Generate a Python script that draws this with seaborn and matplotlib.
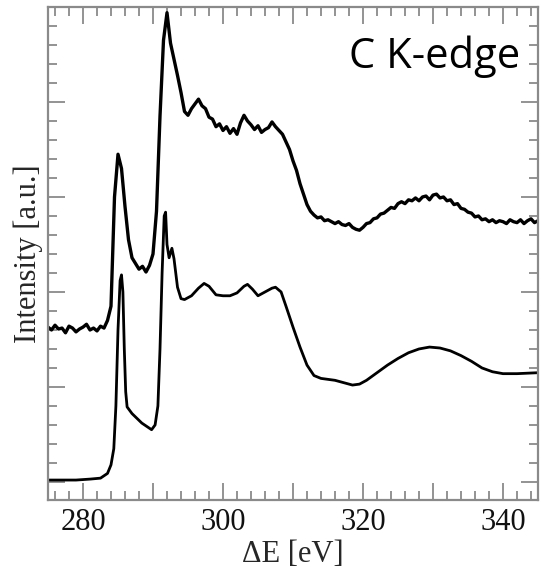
import numpy as np
import pandas as pd
import matplotlib
matplotlib.use("Agg")
import matplotlib.pyplot as plt
from matplotlib.ticker import MultipleLocator, NullFormatter, FuncFormatter
import seaborn as sns

# ---- data ----
energy_lower = [275, 277, 279, 281, 282.5, 283.5, 284.0, 284.4, 284.7, 285.0, 285.3, 285.5,
                285.7, 285.9, 286.1, 286.3, 287.0, 288.4, 289.8, 290.3, 290.7, 291.0, 291.3,
                291.6, 291.8, 292.0, 292.3, 292.7, 293.0, 293.5, 294.0, 294.5, 295.5, 296.5,
                297.3, 298.0, 299.0, 300.0, 301.0, 302.0, 303.0, 303.5, 304.2, 305.0, 306.0,
                307.0, 307.5, 308.3, 309.0, 310.0, 311.0, 312.0, 313.0, 314.0, 315.0, 316.0,
                317.0, 318.5, 319.5, 320.5, 322.0, 323.5, 325.0, 326.5, 328.0, 329.5, 331.0,
                332.5, 334.0, 335.5, 337.0, 338.5, 340.0, 342.0, 345.0]
intensity_lower = [0.02, 0.02, 0.02, 0.03, 0.04, 0.09, 0.18, 0.35, 0.80, 1.60, 2.12, 2.18,
                   2.00, 1.40, 0.95, 0.79, 0.72, 0.62, 0.55, 0.60, 0.80, 1.40, 2.20,
                   2.80, 2.84, 2.50, 2.36, 2.46, 2.35, 2.05, 1.93, 1.92, 1.96, 2.04,
                   2.09, 2.06, 1.97, 1.96, 1.96, 1.99, 2.06, 2.08, 2.03, 1.96, 2.00,
                   2.04, 2.05, 2.00, 1.85, 1.63, 1.42, 1.23, 1.12, 1.09, 1.08, 1.07,
                   1.05, 1.02, 1.03, 1.07, 1.15, 1.23, 1.30, 1.36, 1.40, 1.42, 1.41,
                   1.38, 1.33, 1.27, 1.20, 1.16, 1.14, 1.14, 1.15]

energy_upper = np.arange(275.0, 345.25, 0.5)
intensity_upper = [
    1.63, 1.60, 1.65, 1.61, 1.62, 1.57, 1.64, 1.62, 1.58, 1.61,   # 275.0-279.5
    1.63, 1.66, 1.60, 1.62, 1.59, 1.64, 1.62, 1.70, 1.85, 3.00,   # 280.0-284.5
    3.45, 3.30, 2.90, 2.55, 2.36, 2.30, 2.24, 2.27, 2.21, 2.28,   # 285.0-289.5
    2.40, 2.85, 3.85, 4.65, 4.94, 4.62, 4.45, 4.28, 4.10, 3.90,   # 290.0-294.5
    3.86, 3.93, 3.98, 4.03, 3.96, 3.93, 3.84, 3.82, 3.74, 3.77,   # 295.0-299.5
    3.70, 3.74, 3.67, 3.72, 3.66, 3.78, 3.86, 3.80, 3.76, 3.71,   # 300.0-304.5
    3.75, 3.68, 3.71, 3.73, 3.79, 3.74, 3.70, 3.66, 3.58, 3.50,   # 305.0-309.5
    3.38, 3.28, 3.14, 3.03, 2.92, 2.85, 2.81, 2.78, 2.79, 2.75,   # 310.0-314.5
    2.76, 2.74, 2.72, 2.74, 2.71, 2.70, 2.72, 2.68, 2.66, 2.65,   # 315.0-319.5
    2.68, 2.72, 2.73, 2.77, 2.78, 2.82, 2.83, 2.86, 2.89, 2.88,   # 320.0-324.5
    2.93, 2.95, 2.93, 2.97, 2.96, 2.99, 2.96, 3.00, 3.01, 2.97,   # 325.0-329.5
    3.02, 3.03, 2.99, 3.00, 2.96, 2.97, 2.92, 2.93, 2.88, 2.87,   # 330.0-334.5
    2.84, 2.83, 2.79, 2.80, 2.76, 2.77, 2.74, 2.76, 2.73, 2.75,   # 335.0-339.5
    2.74, 2.72, 2.76, 2.74, 2.73, 2.76, 2.72, 2.75, 2.77, 2.73,   # 340.0-344.5
    2.75,                                                         # 345.0
]

x_ticks = [280, 300, 320, 340]
title_text = "C K-edge"
x_label = "ΔE [eV]"
y_label = "Intensity [a.u.]"

# ---- figure ----
sns.set_style("ticks")
plt.rcParams['font.family'] = ['Liberation Serif', 'DejaVu Serif']

fig = plt.figure(figsize=(5.41, 5.75), dpi=100)
ax = fig.add_axes([48/541, 1 - 500/575, 490/541, 493/575])

df_low = pd.DataFrame({"E": energy_lower, "I": intensity_lower})
df_up = pd.DataFrame({"E": energy_upper, "I": intensity_upper})
sns.lineplot(data=df_low, x="E", y="I", ax=ax, color="black", lw=2.0, sort=True)
sns.lineplot(data=df_up, x="E", y="I", ax=ax, color="black", lw=2.4, sort=True)

ax.set_xlim(275, 345)
ax.set_ylim(-0.19, 5.0)

gray = "#8a8a8a"
for s in ax.spines.values():
    s.set_visible(True)
    s.set_color(gray)
    s.set_linewidth(1.6)

ax.xaxis.set_major_locator(MultipleLocator(10))
ax.xaxis.set_minor_locator(MultipleLocator(2))
ax.xaxis.set_major_formatter(FuncFormatter(lambda v, p: f"{int(round(v))}" if int(round(v)) in x_ticks else ""))
ax.yaxis.set_major_locator(MultipleLocator(1))
ax.yaxis.set_minor_locator(MultipleLocator(0.2))
ax.yaxis.set_major_formatter(NullFormatter())

ax.tick_params(which="both", direction="in", top=True, right=True, color=gray, width=1.3)
ax.tick_params(which="major", length=12)
ax.tick_params(which="minor", length=6.5)
ax.tick_params(axis="x", which="major", labelsize=22, pad=6, labelcolor="#111111")

ax.set_xlabel(x_label, fontsize=22, labelpad=2)
ax.set_ylabel(y_label, fontsize=22, labelpad=0)

ax.text(0.963, 0.876, title_text, transform=ax.transAxes, ha="right", va="baseline",
        fontsize=30, family=["Open Sans", "DejaVu Sans"], color="black")

fig.savefig("out.png", dpi=100)
